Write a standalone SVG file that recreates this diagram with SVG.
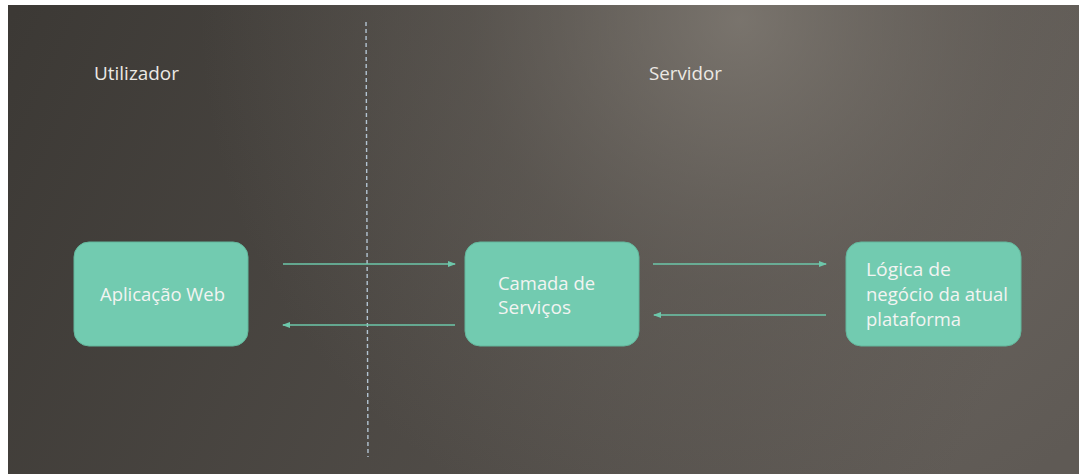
<svg xmlns="http://www.w3.org/2000/svg" width="1079" height="474" viewBox="0 0 1079 474">
  <defs>
    <linearGradient id="bgBase" gradientUnits="userSpaceOnUse" x1="0" y1="40" x2="950" y2="474">
      <stop offset="0" stop-color="#3c3935"/>
      <stop offset="1" stop-color="#5f5a55"/>
    </linearGradient>
    <radialGradient id="bgGlow" gradientUnits="userSpaceOnUse" cx="740" cy="20" r="540">
      <stop offset="0" stop-color="#8a847c" stop-opacity="0.7"/>
      <stop offset="0.5" stop-color="#7a746d" stop-opacity="0.28"/>
      <stop offset="1" stop-color="#7a746d" stop-opacity="0"/>
    </radialGradient>
    <marker id="head" viewBox="0 0 8 8" refX="7" refY="4" markerWidth="8" markerHeight="8" markerUnits="userSpaceOnUse" orient="auto">
      <path d="M0,1 L8,4 L0,7 Z" fill="#6dc7aa"/>
    </marker>
  </defs>
  <style>
    .box { fill: #72cbb0; stroke: #63b79c; stroke-width: 1; }
    .label { font-family: "Open Sans", "Noto Sans", sans-serif; fill: #f2f4f2; font-size: 19px; }
    .heading { font-family: "Open Sans", "Noto Sans", sans-serif; fill: #ece9e4; font-size: 17.5px; }
    .conn { stroke: #6dc7aa; stroke-width: 1.6; fill: none; marker-end: url(#head); }
  </style>

  <!-- page background -->
  <rect x="0" y="0" width="1079" height="474" fill="#ffffff"/>
  <rect x="8" y="5" width="1071" height="469" fill="url(#bgBase)"/>
  <rect x="8" y="5" width="1071" height="469" fill="url(#bgGlow)"/>

  <!-- boundary between client and server -->
  <line x1="366" y1="22" x2="368" y2="457" stroke="#b3c4d2" stroke-width="1.4" stroke-dasharray="4 3"/>

  <text class="heading" x="94" y="80" textLength="85" lengthAdjust="spacingAndGlyphs">Utilizador</text>
  <text class="heading" x="649" y="80" textLength="73" lengthAdjust="spacingAndGlyphs">Servidor</text>

  <g id="connectors">
    <line class="conn" x1="283" y1="264" x2="455" y2="264"/>
    <line class="conn" x1="455" y1="325" x2="283" y2="325"/>
    <line class="conn" x1="653" y1="264" x2="826" y2="264"/>
    <line class="conn" x1="826" y1="315" x2="654" y2="315"/>
  </g>

  <g id="node-aplicacao-web">
    <rect class="box" x="74" y="242" width="174" height="104" rx="15"/>
    <text class="label" x="100" y="301" textLength="125" lengthAdjust="spacingAndGlyphs">Aplicação Web</text>
  </g>

  <g id="node-camada-servicos">
    <rect class="box" x="465" y="242" width="174" height="104" rx="15"/>
    <text class="label" x="498" y="290" textLength="97" lengthAdjust="spacingAndGlyphs">Camada de</text>
    <text class="label" x="498" y="314" textLength="73" lengthAdjust="spacingAndGlyphs">Serviços</text>
  </g>

  <g id="node-logica-negocio">
    <rect class="box" x="846" y="242" width="175" height="104" rx="15"/>
    <text class="label" x="866" y="276" textLength="85" lengthAdjust="spacingAndGlyphs">Lógica de</text>
    <text class="label" x="866" y="301" textLength="142" lengthAdjust="spacingAndGlyphs">negócio da atual</text>
    <text class="label" x="866" y="326" textLength="95" lengthAdjust="spacingAndGlyphs">plataforma</text>
  </g>
</svg>
